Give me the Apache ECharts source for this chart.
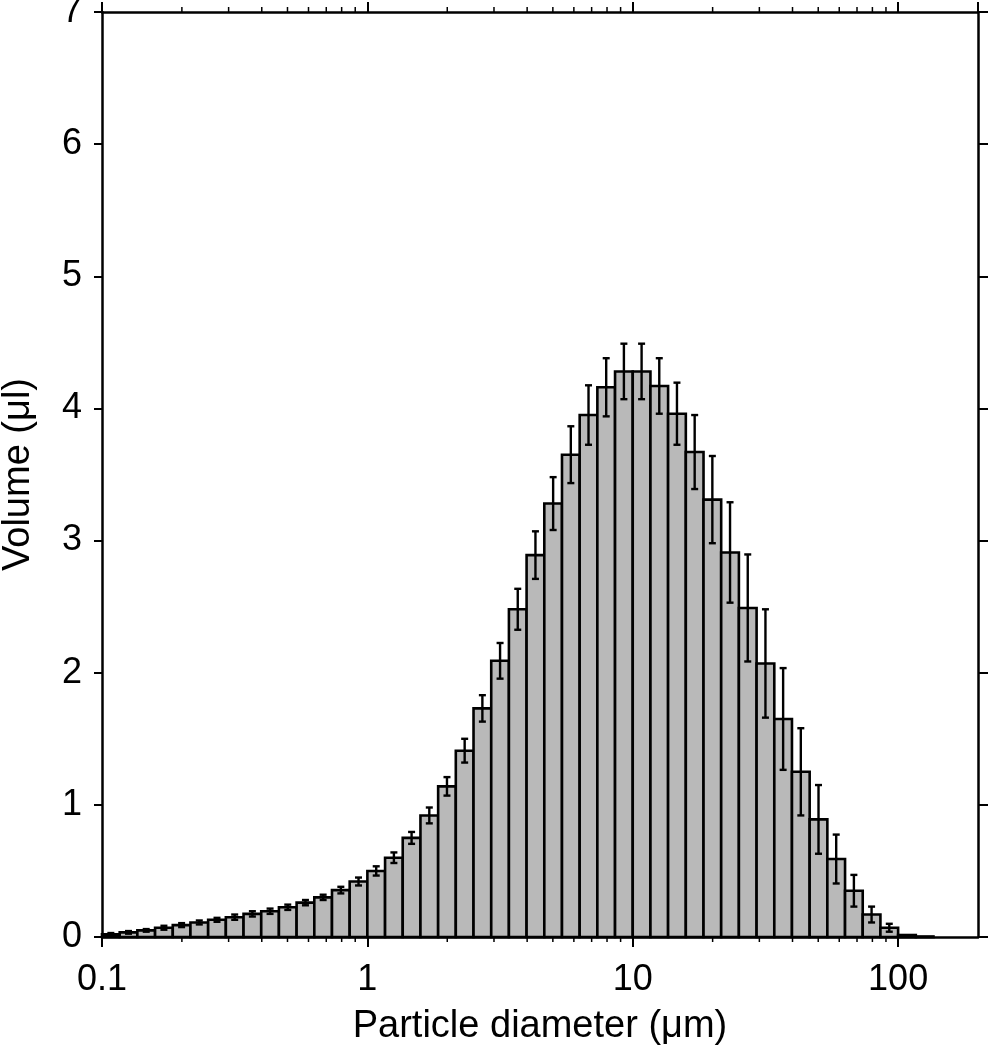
<!DOCTYPE html>
<html>
<head>
<meta charset="utf-8">
<script src="https://cdn.jsdelivr.net/npm/echarts@6/dist/echarts.min.js"></script>
<style>
  html, body { margin: 0; padding: 0; background: #fff; }
  #chart { width: 990px; height: 1050px; }
</style>
</head>
<body>
<div id="chart"></div>
<script>
// channel edges in one decade (15 log-spaced channels per decade)
const decadeEdges = [1, 1.166, 1.359, 1.585, 1.848, 2.154, 2.512, 2.929, 3.415, 3.981, 4.642, 5.412, 6.310, 7.356, 8.577]
const decades = [0.1, 1, 10, 100]

// volume per channel (µl), starting at 0.1 µm
const volume = [
  0.02, 0.035, 0.05, 0.07, 0.09, 0.11, 0.13, 0.15, 0.175, 0.195,
  0.225, 0.26, 0.30, 0.355, 0.42, 0.50, 0.60, 0.75, 0.92, 1.14,
  1.41, 1.73, 2.09, 2.48, 2.89, 3.28, 3.65, 3.95, 4.16, 4.28,
  4.28, 4.17, 3.96, 3.67, 3.31, 2.91, 2.49, 2.07, 1.65, 1.25,
  0.89, 0.59, 0.35, 0.17, 0.07, 0.015, 0.004,
]
// error bar half width
const volumeErr = [
  0.01, 0.01, 0.01, 0.015, 0.015, 0.015, 0.015, 0.02, 0.02, 0.02,
  0.02, 0.02, 0.02, 0.025, 0.03, 0.035, 0.04, 0.045, 0.06, 0.07,
  0.09, 0.10, 0.135, 0.155, 0.18, 0.20, 0.215, 0.225, 0.22, 0.21,
  0.21, 0.21, 0.235, 0.28, 0.33, 0.38, 0.405, 0.41, 0.385, 0.33,
  0.26, 0.185, 0.12, 0.06, 0.03, 0, 0,
]
const minorTickMults = [2, 3, 4, 5, 6, 7, 8, 9]

const binEdges = decades.flatMap(d => decadeEdges.map(e => +(e * d).toPrecision(4)))
binEdges.push(1000)
const minorTicks = decades.slice(0, 3).flatMap(d => minorTickMults.map(m => +(m * d).toPrecision(3)))

const font = "'Liberation Sans', Arial, sans-serif"
const yMax = 7

const chart = echarts.init(document.getElementById('chart'))

const barData = volume.map((v, i) => [binEdges[i], binEdges[i + 1], v, volumeErr[i]])

const axisLine = { show: true, onZero: false, lineStyle: { color: '#000', width: 2.5 } }
const axisTick = { show: true, inside: false, length: 10, lineStyle: { color: '#000', width: 2 } }

chart.setOption({
  animation: false,
  backgroundColor: '#fff',
  grid: { left: 102, right: 12, top: 12, bottom: 113, outerBoundsMode: 'none', containLabel: false },
  xAxis: [
    {
      type: 'log',
      logBase: 10,
      min: 0.1,
      max: 200,
      position: 'bottom',
      name: 'Particle diameter (μm)',
      nameLocation: 'middle',
      nameGap: 71,
      nameTextStyle: { fontFamily: font, fontSize: 38, color: '#000' },
      axisLine,
      axisTick,
      axisLabel: {
        fontFamily: font, fontSize: 36, color: '#000', margin: 25,
        showMaxLabel: false,
        formatter: v => (v > 150 ? '' : String(v)),
      },
      splitLine: { show: false },
    },
    {
      type: 'log',
      logBase: 10,
      min: 0.1,
      max: 200,
      position: 'top',
      axisLine,
      axisTick,
      axisLabel: { show: false },
      splitLine: { show: false },
    },
  ],
  yAxis: [
    {
      type: 'value',
      min: 0,
      max: yMax,
      interval: 1,
      position: 'left',
      name: 'Volume (μl)',
      nameLocation: 'middle',
      nameGap: 64,
      nameTextStyle: { fontFamily: font, fontSize: 38, color: '#000' },
      axisLine,
      axisTick: { ...axisTick, length: 8 },
      axisLabel: { fontFamily: font, fontSize: 36, color: '#000', margin: 20 },
      splitLine: { show: false },
    },
    {
      type: 'value',
      min: 0,
      max: yMax,
      interval: 1,
      position: 'right',
      axisLine,
      axisTick,
      axisLabel: { show: false },
      splitLine: { show: false },
    },
  ],
  series: [
    {
      type: 'custom',
      name: 'volume',
      xAxisIndex: 0,
      yAxisIndex: 0,
      clip: false,
      encode: { x: [0, 1], y: [2] },
      data: barData,
      renderItem: (params, api) => {
        const lo = api.value(0)
        const hi = api.value(1)
        const v = api.value(2)
        const e = api.value(3)
        const p0 = api.coord([lo, 0])
        const p1 = api.coord([hi, v])
        const xc = (p0[0] + p1[0]) / 2
        const yTop = api.coord([lo, v + e])[1]
        const yBot = api.coord([lo, Math.max(v - e, 0)])[1]
        const lineStyle = { stroke: '#000', lineWidth: 2.4 }
        const children = [
          {
            type: 'rect',
            shape: { x: p0[0], y: p1[1], width: p1[0] - p0[0], height: p0[1] - p1[1] },
            style: { fill: '#b9b9b9', stroke: '#000', lineWidth: 2.6 },
          },
        ]
        if (e > 0) {
          children.push(
            { type: 'line', shape: { x1: xc, y1: yTop, x2: xc, y2: yBot }, style: lineStyle },
            { type: 'line', shape: { x1: xc - 3.5, y1: yTop, x2: xc + 3.5, y2: yTop }, style: lineStyle },
            { type: 'line', shape: { x1: xc - 3.5, y1: yBot, x2: xc + 3.5, y2: yBot }, style: lineStyle }
          )
        }
        return { type: 'group', children }
      },
    },
    {
      // minor log ticks on top and bottom axes
      type: 'custom',
      name: 'minorTicks',
      xAxisIndex: 1,
      yAxisIndex: 1,
      clip: false,
      silent: true,
      encode: { x: 0 },
      data: minorTicks.map(t => [t]),
      renderItem: (params, api) => {
        const b = api.coord([api.value(0), 0])
        const t = api.coord([api.value(0), yMax])
        const style = { stroke: '#000', lineWidth: 1.5 }
        return {
          type: 'group',
          children: [
            { type: 'line', shape: { x1: b[0], y1: b[1], x2: b[0], y2: b[1] + 5 }, style },
            { type: 'line', shape: { x1: t[0], y1: t[1], x2: t[0], y2: t[1] - 5 }, style },
          ],
        }
      },
    },
  ],
})
</script>
</body>
</html>
